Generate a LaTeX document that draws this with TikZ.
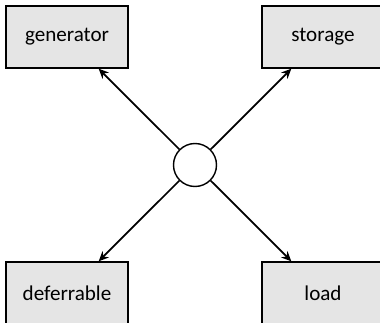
\documentclass[tikz,border=0pt]{standalone}
\usepackage{fontspec}
\setmainfont{Carlito}
\usetikzlibrary{arrows.meta,positioning}
\tikzset{every picture/.style={line width=0.8pt}}
\tikzset{
  unit/.style={draw, fill=gray!20, minimum width=2.44cm, minimum height=1.24cm, font=\large},
  bus/.style={draw, fill=white, circle, minimum size=0.86cm, inner sep=0pt},
  flow/.style={line width=1pt, -{Stealth[length=2mm,width=1.8mm]}}
}

\begin{document}
\begin{tikzpicture}
    \useasboundingbox (-3.9,-3.14) rectangle (3.7,3.3);

    % central bus
    \node[bus] (hub) at (0,0) {};

    % units around the bus
    \node[unit] (gen) at (-2.56,2.56) {generator};
    \node[unit] (sto) at (2.56,2.56) {storage};
    \node[unit] (def) at (-2.56,-2.56) {deferrable};
    \node[unit] (load) at (2.56,-2.56) {load};

    % power flows
    \draw[flow] (hub) -- (gen);
    \draw[flow] (hub) -- (sto);
    \draw[flow] (hub) -- (def);
    \draw[flow] (hub) -- (load);
\end{tikzpicture}
\end{document}
